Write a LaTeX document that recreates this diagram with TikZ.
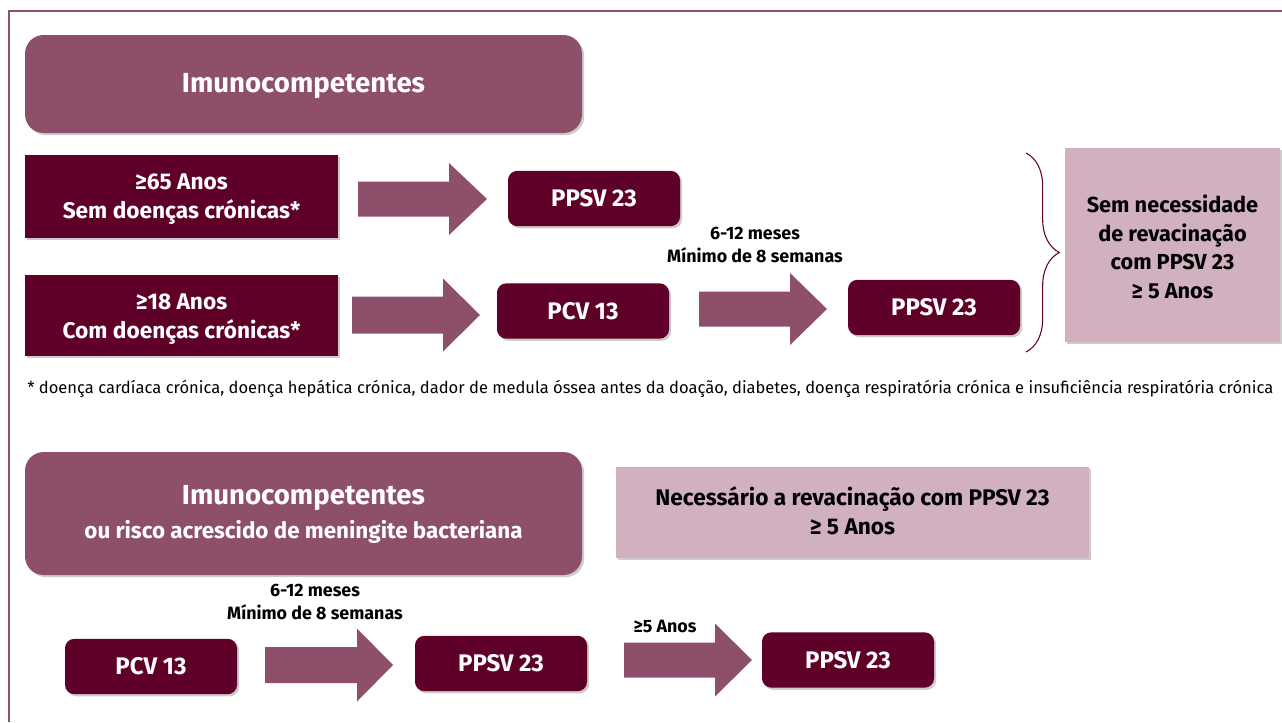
\documentclass[tikz,border=0pt]{standalone}
\usepackage{fontspec}
\setmainfont{Fira Sans}
\usetikzlibrary{shadows,decorations.pathreplacing}
\definecolor{dark}{HTML}{5F0029}
\definecolor{mauve}{HTML}{8E4F6B}
\definecolor{pinkl}{HTML}{D1B1C0}
\newcommand\blockarrow[6]{% xl, xhead, xtip, yc, bodyhalf, headhalf
  \fill[mauve] (#1,#4-#5) -- (#2,#4-#5) -- (#2,#4-#6) -- (#3,#4) -- (#2,#4+#6) -- (#2,#4+#5) -- (#1,#4+#5) -- cycle;}
\tikzset{
  sh/.style={drop shadow={shadow xshift=1.6pt,shadow yshift=-1.6pt,fill=black,opacity=0.2}},
  headerbox/.style={fill=mauve, rounded corners=14pt, sh, inner sep=0pt},
  headertext/.style={text=white, align=center, inner sep=0pt, font=\bfseries\fontsize{20.7}{24}\selectfont},
  agebox/.style={fill=dark, sh, inner sep=0pt, minimum width=234.75pt},
  agetext/.style={text=white, align=center, inner sep=0pt, font=\bfseries\fontsize{17}{21.75}\selectfont},
  vbox/.style={fill=dark, rounded corners=7pt, sh, text=white, inner sep=0pt,
    minimum width=129pt, minimum height=41.5pt, font=\bfseries\fontsize{18}{20}\selectfont},
  notebox/.style={fill=pinkl, sh, inner sep=0pt},
  notetext/.style={text=black, align=center, inner sep=0pt, font=\bfseries\fontsize{16.3}{21.5}\selectfont},
  lbl/.style={text=black, align=center, inner sep=0pt, font=\bfseries\fontsize{13.4}{17.25}\selectfont},
}
\begin{document}
\begin{tikzpicture}[x=0.75pt,y=-0.75pt]
\useasboundingbox (0,0) rectangle (1282,722);
% frame
\draw[mauve, line width=1.5pt] (9,722) -- (9,11) -- (1282,11);
% top section
\node[headerbox, minimum width=417.75pt, minimum height=73.5pt] (h1) at (303.5,84) {};
\node[headertext] (h1t) at (303.5,85.5) {Imunocompetentes};
\node[agebox, minimum height=62.25pt] (a65) at (181.5,196.5) {};
\node[agetext] (a65t) at (181.5,199.5) {≥65 Anos\\Sem doenças crónicas*};
\node[agebox, minimum height=60.75pt] (a18) at (181.5,315.5) {};
\node[agetext] (a18t) at (181.5,319) {≥18 Anos\\Com doenças crónicas*};
\node[vbox] (p1) at (594,198.5) {PPSV 23};
\node[vbox] (c1) at (583,311) {PCV 13};
\node[vbox] (p2) at (934,307.5) {PPSV 23};
\node[lbl] (l1) at (755,244.5) {6-12 meses\\Mínimo de 8 semanas};
\blockarrow{358}{449}{487}{199}{17.5}{36}
\blockarrow{352}{443}{480}{315}{18.5}{36.5}
\blockarrow{699}{790}{827}{309}{17.5}{36}
\coordinate (bt) at (1026,153);
\coordinate (bb) at (1026,352);
\draw[dark, line width=0.8pt, decorate, decoration={brace, amplitude=25pt}] (bt) -- (bb);
\node[notebox, minimum width=161.25pt, minimum height=145.5pt] (n1) at (1172.5,245) {};
\node[notetext] (n1t) at (1172.5,247) {Sem necessidade\\de revacinação\\com PPSV 23\\≥ 5 Anos};
\node[anchor=west, inner sep=0pt, font=\fontsize{12.4}{14}\selectfont] (fn) at (27,389)
  {* doença cardíaca crónica, doença hepática crónica, dador de medula óssea antes da doação, diabetes, doença respiratória crónica e insuficiência respiratória crónica};
% bottom section
\node[headerbox, minimum width=417.75pt, minimum height=92.25pt] (h2) at (303.5,513.5) {};
\node[headertext] (h2t) at (303.5,514.5)
  {Imunocompetentes\\[1pt]{\fontsize{16.8}{20}\selectfont ou risco acrescido de meningite bacteriana}};
\node[notebox, minimum width=354.75pt, minimum height=68.25pt] (n2) at (852.5,512.5) {};
\node[notetext, font=\bfseries\fontsize{17}{21.5}\selectfont] (n2t) at (852.5,511)
  {Necessário a revacinação com PPSV 23\\≥ 5 Anos};
\node[lbl] (l2) at (315,602) {6-12 meses\\Mínimo de 8 semanas};
\node[vbox] (c2) at (151,666.5) {PCV 13};
\node[vbox] (p3) at (501,663.5) {PPSV 23};
\node[vbox] (p4) at (848,660) {PPSV 23};
\node[lbl] (l3) at (665,626) {≥5 Anos};
\blockarrow{265}{357}{393}{665}{18}{36.5}
\blockarrow{624}{715}{752}{660}{17.5}{36.5}
\end{tikzpicture}
\end{document}
